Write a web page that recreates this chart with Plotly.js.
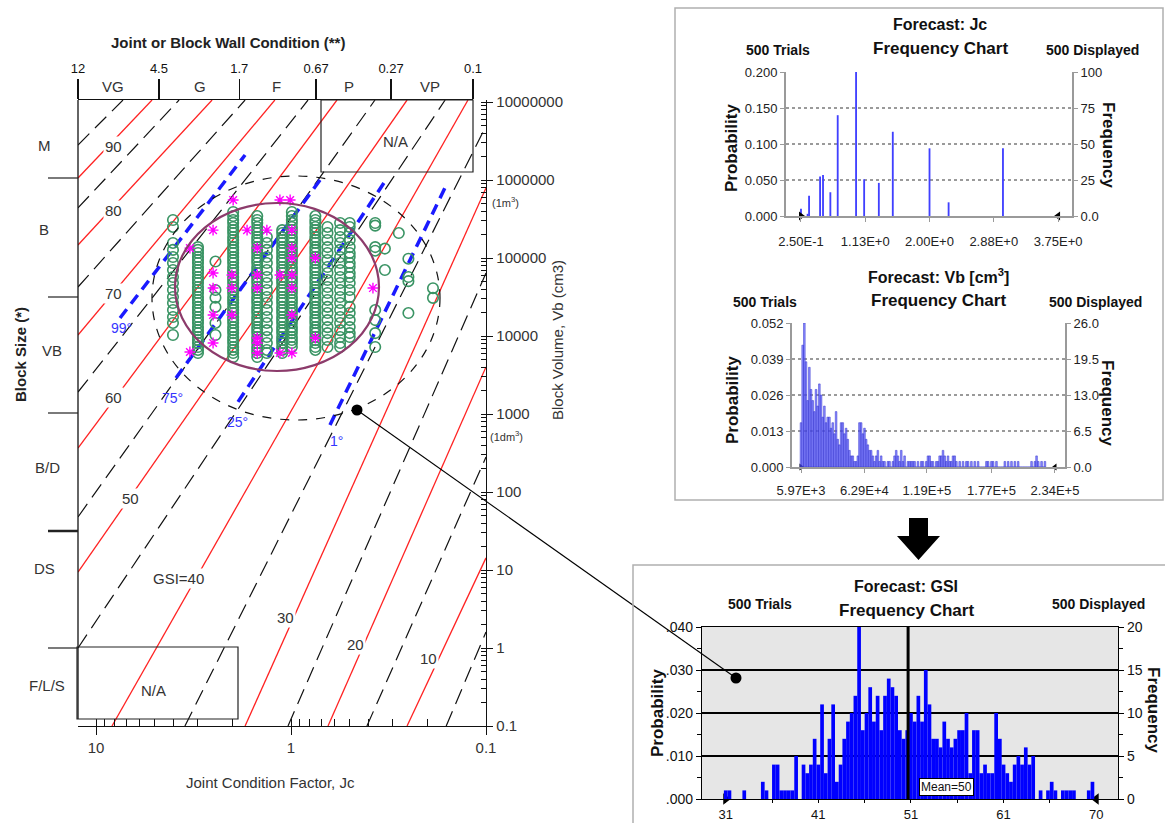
<!DOCTYPE html>
<html><head><meta charset="utf-8">
<script src="https://cdn.plot.ly/plotly-3.0.1.min.js"></script>
<style>html,body{margin:0;padding:0;background:#fff}#chart{width:1165px;height:823px}</style>
</head><body><div id="chart"></div>
<script>
// ---------------- DATA ----------------
// GSI nomogram contour lines (end points)
const gsiLevels   = [95,90,85,80,75,70,65,60,55,50,45,40,35,30,25,20,15,10,5];
const lineJcStart = [12.37,12.37,12.37,12.37,12.37,12.37,12.37,12.37,12.37,12.37,12.37,8.28,3.50,1.72,1.036,0.646,0.408,0.254,0.160];
const lineVbStart = [2.81e6,1.06e6,4.38e5,1.47e5,4.25e4,1.03e4,1910,366,47.8,9.42,1.0,0.1,0.1,0.1,0.1,0.1,0.1,0.1,0.1];
const lineJcEnd   = [7.27,5.16,3.75,2.54,1.72,1.21,0.818,0.581,0.371,0.254,0.162,0.1237,0.1,0.1,0.1,0.1,0.1,0.1,0.1];
const lineVbEnd   = [1.06e7,1.06e7,1.06e7,1.06e7,1.06e7,1.06e7,1.06e7,1.06e7,1.06e7,1.06e7,1.06e7,1.06e7,4.92e6,7.89e5,6.42e4,4010,281,14.3,1.60];
const gsiLabels   = ['90','80','70','60','50','GSI=40','30','20','10'];

// percentile lines (blue dashed)
const pctLabels  = ['99°','75°','25°','1°'];
const pctJcStart = [7.53, 3.89, 1.87, 0.631];
const pctVbStart = [1.70e4, 2900, 1430, 723];
const pctJcEnd   = [1.72, 0.710, 0.326, 0.158];
const pctVbEnd   = [2.09e6, 1.0e6, 1.0e6, 9.1e5];

// simulated samples (green circles) – one list of Vb per Jc column
const simColumnJc = [4.03, 3.00, 2.44, 1.98, 1.49, 1.33, 1.11, 0.99, 0.75, 0.65, 0.56, 0.50, 0.37, 0.33, 0.28, 0.25, 0.187];
const simColumnVb = [
  [307000,250000,156000,127000,103000,86300,70100,57100,47800,38900,31600,26500,21500,17500,14700,10300],
  [138000,127000,116000,103000,94200,86300,76700,70100,64200,57100,52200,47800,42500,38900,35600,31600,29000,26500,23600,21500,19700,17500,16000,14700,13000,11900,10900,9700,8890,8130,7230,6620,6050],
  [90000,38900,31000,23600,14700,10300],
  [389000,345000,307000,281000,250000,228000,209000,186000,170000,156000,138000,127000,116000,103000,94200,86300,76700,70100,64200,57100,52200,47800,42500,38900,35600,31600,29000,26500,23600,21500,19700,17500,16000,14700,13000,11900,10900,9700,8890,8130,7230,6620,6050,5380],
  [345000,307000,281000,250000,228000,209000,186000,170000,156000,138000,127000,116000,103000,94200,86300,76700,70100,64200,57100,52200,47800,42500,38900,35600,31600,29000,26500,23600,21500,19700,17500,16000,14700,13000,11900,10900,9700,8890,8130,7230,6620,6050,5380],
  [186000,156000,127000,103000,86300,70100,57100,47800,38900,31600,26500,21500,17500,14700,11900,9700,8130,6620,6050],
  [228000,209000,186000,170000,156000,138000,127000,116000,103000,94200,86300,76700,70100,64200,57100,52200,47800,42500,38900,35600,31600,29000,26500,23600,21500,19700,17500,16000,14700,13000,11900,10900,9700,8890,8130,7230,6620,6050],
  [389000,345000,307000,281000,250000,228000,209000,186000,170000,156000,138000,127000,116000,103000,94200,86300,76700,70100,64200,57100,52200,47800,42500,38900,35600,31600,29000,26500,23600,21500,19700,17500,16000,14700,13000,11900,10900,9700,8890,8130,7230],
  [345000,307000,281000,250000,228000,209000,186000,170000,156000,138000,127000,116000,103000,94200,86300,76700,70100,64200,57100,52200,47800,42500,38900,35600,31600,29000,26500,23600,21500,19700,17500,16000,14700,13000,11900,10900,9700,8890,8130,7230,6620],
  [250000,209000,170000,138000,116000,94200,76700,64200,52200,42500,35600,29000,23600,19700,16000,13000,10900,8890,7230],
  [281000,228000,186000,156000,127000,103000,86300,70100,57100,47800,38900,31600,26500,21500,17500,14700,11900,9700,8130,7230],
  [281000,250000,209000,170000,138000,116000,103000,86300,76700,64200,57100,47800,38900,31600,23600,19700,16000,13000,10900,9700],
  [281000,260000,138000,124000,21500,16000,10900,7230],
  [132000,70100],
  [209000],
  [98000,57100,50500,19700],
  [41000,30800]
];
// magenta asterisks
const starJc = [1.98,1.14,1.01, 2.51,1.68,1.33,0.99, 3.30,1.49,0.99, 0.99,0.75, 2.51,2.01,1.49,1.14,0.99, 2.51,2.01,1.49,0.99,0.38, 2.51,2.01,0.99, 2.51,1.49,1.49,1.49,0.75, 3.30,1.14,0.99];
const starVb = [554000,554000,554000, 228000,228000,228000,228000, 134000,134000,134000, 100000,100000, 64200,60500,60500,60500,60500, 41200,41200,41200,41200,41200, 18600,18600,18600, 8130,9420,8130,6050,9420, 6240,6050,6050];

// axis ticks of the nomogram
const jcBottomTicks = [10, 1, 0.1];
const jcBottomText  = ['10', '1', '0.1'];
const jcTopTicks    = [12, 4.5, 1.7, 0.67, 0.27, 0.1];
const jcTopText     = ['12', '4.5', '1.7', '0.67', '0.27', '0.1'];
const jcClasses     = ['VG', 'G', 'F', 'P', 'VP'];
const vbTicks       = [0.1, 1, 10, 100, 1000, 10000, 100000, 1000000, 10000000];
const vbTickText    = ['0.1','1','10','100','1000','10000','100000','1000000','10000000'];
const blockClasses  = ['M', 'B', 'VB', 'B/D', 'DS', 'F/L/S'];

// Forecast Jc
const jcValues = [0.25, 0.34, 0.36, 0.51, 0.55, 0.65, 0.75, 1.0, 1.11, 1.31, 1.5, 2.0, 2.26, 3.0];
const jcProb   = [0.010, 0.003, 0.028, 0.055, 0.057, 0.033, 0.140, 0.200, 0.051, 0.046, 0.117, 0.094, 0.019, 0.094];
const jcXTicks = [0.25, 1.125, 2.0, 2.875, 3.75];
const jcXText  = ['2.50E-1', '1.13E+0', '2.00E+0', '2.88E+0', '3.75E+0'];
const jcPTicks = [0, 0.05, 0.1, 0.15, 0.2];
const jcPText  = ['0.000', '0.050', '0.100', '0.150', '0.200'];
const jcFTicks = [0, 25, 50, 75, 100];
const jcFText  = ['0.0', '25', '50', '75', '100'];

// Forecast Vb
const vbStart = 5970, vbBinWidth = 1500;
const vbCounts = [8,22,26,19,12,18,14,12,10,14, 11,15,13,9,11,8,9,9,7,8, 6,10,5,4,8,8,6,7,5,3,
  2,2,1,1,2,8,8,6,7,5, 4,3,3,2,1,2,3,1,2,1, 1,0,1,1,0,1,2,3,2,1, 3,1,2,0,1,1,1,1,1,0,
  1,0,1,1,0,1,2,2,1,1, 0,1,1,2,2,3,2,1,2,1, 1,2,2,1,0,1,0,1,0,1, 1,0,1,0,1,0,1,0,0,0,
  0,1,1,0,1,1,0,1,0,0, 0,0,1,0,1,0,1,0,1,0, 1,0,0,0,0,0,0,0,1,0, 1,2,1,0,1,0,1];
const vbXTicks = [5970, 62900, 119000, 177000, 234000];
const vbXText  = ['5.97E+3', '6.29E+4', '1.19E+5', '1.77E+5', '2.34E+5'];
const vbPTicks = [0, 0.013, 0.026, 0.039, 0.052];
const vbPText  = ['0.000', '0.013', '0.026', '0.039', '0.052'];
const vbFTicks = [0, 6.5, 13, 19.5, 26];
const vbFText  = ['0.0', '6.5', '13.0', '19.5', '26.0'];

// Forecast GSI
const gsiStart = 31, gsiBinWidth = 0.39;
const gsiCounts = [1,1,0,0,0,1,0,0,0,0, 2,1,0,4,4,1,1,1,1,5, 0,4,3,4,7,4,11,3,7,11,
  2,4,7,9,10,12,20,8,10,13, 9,12,8,12,14,13,12,8,7,8, 10,9,12,9,15,11,7,7,6,9,
  7,6,7,8,8,10,3,8,8,3, 4,3,3,10,7,4,3,2,4,5, 4,6,4,5,0,1,0,1,2,1, 0,1,1,1,1,0,0,0,1,2];
const gsiMeanPos = 50.2;
const gsiXTicks = [31, 40.75, 50.5, 60.25, 70];
const gsiXText  = ['31', '41', '51', '61', '70'];
const gsiPTicks = [0, 0.01, 0.02, 0.03, 0.04];
const gsiPText  = ['.000', '.010', '.020', '.030', '.040'];
const gsiFTicks = [0, 5, 10, 15, 20];
const gsiFText  = ['0', '5', '10', '15', '20'];

// ---------------- DRAWING ----------------
const W = 1165, H = 823;
const px = x => x / W;
const py = y => 1 - y / H;
const FONT = 'Liberation Sans, Arial, Helvetica, sans-serif';
const traces = [];

function contour(isRed) {
  const xs = [], ys = [];
  gsiLevels.forEach((g, i) => {
    if ((g % 10 === 0) === isRed) {
      xs.push(lineJcStart[i], lineJcEnd[i], null);
      ys.push(lineVbStart[i], lineVbEnd[i], null);
    }
  });
  return {type: 'scatter', mode: 'lines', x: xs, y: ys, xaxis: 'x', yaxis: 'y', hoverinfo: 'skip',
    line: isRed ? {color: '#ff2222', width: 1.3} : {color: '#111', width: 1.2, dash: '16px,8px'}};
}
traces.push(contour(false), contour(true));

(function () {
  const xs = [], ys = [];
  pctLabels.forEach((l, i) => { xs.push(pctJcStart[i], pctJcEnd[i], null); ys.push(pctVbStart[i], pctVbEnd[i], null); });
  traces.push({type: 'scatter', mode: 'lines', x: xs, y: ys, xaxis: 'x', yaxis: 'y', hoverinfo: 'skip',
    line: {color: '#1a1aff', width: 3.5, dash: '11px,7px'}});
})();

(function () {
  const xs = [], ys = [];
  simColumnJc.forEach((jc, c) => simColumnVb[c].forEach(v => { xs.push(jc); ys.push(v); }));
  traces.push({type: 'scatter', mode: 'markers', x: xs, y: ys, xaxis: 'x', yaxis: 'y', hoverinfo: 'skip',
    marker: {symbol: 'circle-open', size: 10.5, color: '#3a9464', line: {color: '#3a9464', width: 1.6}}});
})();
traces.push({type: 'scatter', mode: 'markers', x: starJc, y: starVb, xaxis: 'x', yaxis: 'y', hoverinfo: 'skip',
  marker: {symbol: 'asterisk-open', size: 9, color: '#ff00ff', line: {color: '#ff00ff', width: 1.4}}});
// register top axis
traces.push({type: 'scatter', mode: 'none', x: jcTopTicks, y: jcTopTicks.map(() => 1), xaxis: 'x2', yaxis: 'y', hoverinfo: 'skip'});

// range end markers (first / last tick of each forecast axis)
function endMarks(xa, ya, a, b, size) {
  traces.push({type: 'scatter', mode: 'markers', x: [a, b], y: [0, 0], xaxis: xa, yaxis: ya, cliponaxis: false, hoverinfo: 'skip',
    marker: {symbol: ['triangle-right', 'triangle-left'], size: size, color: '#000', line: {width: 0}}});
}

// Jc forecast
traces.push({type: 'bar', x: jcValues, y: jcProb, width: 0.025, xaxis: 'x3', yaxis: 'y3', marker: {color: '#4040ff'}, hoverinfo: 'skip'});
traces.push({type: 'scatter', mode: 'none', x: jcXTicks, y: jcFTicks, xaxis: 'x3', yaxis: 'y4', hoverinfo: 'skip'});
endMarks('x3', 'y3', jcXTicks[0], jcXTicks[jcXTicks.length - 1], 8);
// Vb forecast
traces.push({type: 'bar', x0: vbStart, dx: vbBinWidth, y: vbCounts, width: vbBinWidth, xaxis: 'x4', yaxis: 'y6',
  marker: {color: 'rgba(90,90,255,0.7)', line: {color: '#3333cc', width: 0.5}}, hoverinfo: 'skip'});
traces.push({type: 'scatter', mode: 'none', x: vbXTicks, y: vbPTicks, xaxis: 'x4', yaxis: 'y5', hoverinfo: 'skip'});
endMarks('x4', 'y5', vbXTicks[0], vbXTicks[vbXTicks.length - 1], 6);
// GSI forecast
traces.push({type: 'bar', x0: gsiStart, dx: gsiBinWidth, y: gsiCounts, width: gsiBinWidth, xaxis: 'x5', yaxis: 'y8',
  marker: {color: '#0000ff', line: {width: 0}}, hoverinfo: 'skip'});
traces.push({type: 'scatter', mode: 'none', x: gsiXTicks, y: gsiPTicks, xaxis: 'x5', yaxis: 'y7', hoverinfo: 'skip'});
endMarks('x5', 'y7', gsiXTicks[0], gsiXTicks[gsiXTicks.length - 1], 10);

// ---------- annotations ----------
function note(text, x, y, size, opts) {
  return Object.assign({text: text, x: px(x), y: py(y), xref: 'paper', yref: 'paper', showarrow: false,
    xanchor: 'center', yanchor: 'middle', font: {family: FONT, size: size || 15, color: '#333'}}, opts || {});
}
const ann = [];
ann.push(note('<b>Joint or Block Wall Condition (**)</b>', 228, 42, 15, {font: {family: FONT, size: 15, color: '#222'}}));
[[113], [200], [276], [349], [430]].forEach((p, i) => ann.push(note(jcClasses[i], p[0], 86, 15)));
[[44,145],[44,230],[52,350],[47,468],[44,568],[47,685]].forEach((p, i) => ann.push(note(blockClasses[i], p[0], p[1], 15)));
ann.push(note('<b>Block Size (*)</b>', 20, 355, 15, {textangle: -90, font: {family: FONT, size: 15, color: '#222'}}));
[[113,147],[113,210],[113,293],[113,397],[130,498],[178,578],[285,617],[355,644],[428,658]].forEach((p, i) =>
  ann.push(note(gsiLabels[i], p[0], p[1], 15, {bgcolor: '#ffffff', borderpad: 1})));
[[121,328],[172,398],[237,422],[336,441]].forEach((p, i) =>
  ann.push(note(pctLabels[i], p[0], p[1], 14, {font: {family: FONT, size: 14, color: '#3535ff'}})));
ann.push(note('N/A', 396, 142, 15), note('N/A', 153, 690, 15));
ann.push(note('Block Volume, Vb (cm3)', 557, 340, 15, {textangle: -90}));
ann.push(note('(1m<sup>3</sup>)', 505, 202, 11), note('(1dm<sup>3</sup>)', 506, 436, 11));
ann.push(note('Joint Condition Factor, Jc', 270, 782, 15));

function panelText(title, cx, ty, trialsX, dispX, lineY, probX, probY, freqX, freqY, tsize) {
  ann.push(note('<b>' + title + '</b>', cx, ty, 16, {font: {family: FONT, size: 16, color: '#111'}}));
  ann.push(note('<b>Frequency Chart</b>', cx, ty + 24, 17, {font: {family: FONT, size: 17, color: '#111'}}));
  ann.push(note('<b>500 Trials</b>', trialsX, lineY, tsize, {font: {family: FONT, size: tsize, color: '#111'}}));
  ann.push(note('<b>500 Displayed</b>', dispX, lineY, tsize, {font: {family: FONT, size: tsize, color: '#111'}}));
  ann.push(note('<b>Probability</b>', probX, probY, 17, {textangle: -90, font: {family: FONT, size: 17, color: '#111'}}));
  ann.push(note('<b>Frequency</b>', freqX, freqY, 17, {textangle: 90, font: {family: FONT, size: 17, color: '#111'}}));
}
panelText('Forecast: Jc', 940, 24, 778, 1092, 50, 731, 148, 1109, 145, 14);
panelText('Forecast: Vb [cm<sup>3</sup>]', 938, 276, 765, 1095, 302, 732, 400, 1108, 403, 14);
panelText('Forecast: GSI', 906, 586, 760, 1098, 604, 657, 713, 1154, 710, 14);
ann.push(note('Mean=50', 946, 787, 12, {bgcolor: '#fff', bordercolor: '#000', borderwidth: 1, borderpad: 1,
  font: {family: FONT, size: 12, color: '#111'}}));

// ---------- shapes ----------
function pline(x0, y0, x1, y1, color, width, extra) {
  return Object.assign({type: 'line', xref: 'paper', yref: 'paper', x0: px(x0), y0: py(y0), x1: px(x1), y1: py(y1),
    line: {color: color || '#111', width: width || 1}}, extra || {});
}
function prect(x0, y0, x1, y1, color, width, fill, layer) {
  return {type: 'rect', xref: 'paper', yref: 'paper', x0: px(x0), y0: py(y0), x1: px(x1), y1: py(y1),
    line: {color: color, width: width}, fillcolor: fill || 'rgba(0,0,0,0)', layer: layer || 'above'};
}
const shapes = [];
shapes.push(prect(702, 627, 1118, 799, 'rgba(0,0,0,0)', 0, '#e6e6e6', 'below'));
shapes.push(pline(78, 100, 78, 719, '#111', 1.3));
[178, 297, 413, 531, 648].forEach((y, i) => shapes.push(pline(48, y, 78, y, '#222', i === 3 ? 2.5 : 1.2)));
shapes.push(prect(77, 647, 238, 719, '#222', 1.2));
shapes.push(prect(321, 100, 473, 172, '#222', 1.2));
shapes.push({type: 'circle', xref: 'paper', yref: 'paper', x0: px(175), x1: px(379), y0: py(371), y1: py(203),
  line: {color: '#8c3b6b', width: 2.2}});
shapes.push({type: 'circle', xref: 'paper', yref: 'paper', x0: px(152), x1: px(440), y0: py(420), y1: py(176),
  line: {color: '#111', width: 1.2, dash: 'dash'}});
shapes.push(pline(357, 410, 736, 678, '#000', 1.1));
[[357, 410], [736, 678]].forEach(p => shapes.push({type: 'circle', xref: 'paper', yref: 'paper',
  x0: px(p[0] - 5.5), x1: px(p[0] + 5.5), y0: py(p[1] + 5.5), y1: py(p[1] - 5.5), fillcolor: '#000', line: {color: '#000', width: 0}}));
shapes.push(prect(675, 8, 1163, 500, '#b0b0b0', 1.5));
shapes.push(prect(633, 565, 1172, 830, '#b0b0b0', 1.5));
shapes.push({type: 'path', xref: 'paper', yref: 'paper', fillcolor: '#000', line: {color: '#000', width: 0},
  path: 'M' + px(909) + ',' + py(518) + ' L' + px(928) + ',' + py(518) + ' L' + px(928) + ',' + py(536) +
        ' L' + px(940) + ',' + py(536) + ' L' + px(918.5) + ',' + py(560) + ' L' + px(897) + ',' + py(536) +
        ' L' + px(909) + ',' + py(536) + ' Z'});
shapes.push({type: 'line', xref: 'x5', yref: 'y7', x0: gsiMeanPos, x1: gsiMeanPos, y0: 0, y1: 0.04, line: {color: '#000', width: 3}});

// ---------- axes ----------
const tf = (s, c) => ({family: FONT, size: s, color: c || '#222'});
const grayAx = {showline: true, linecolor: '#9a9a9a', linewidth: 2, ticks: 'outside', ticklen: 4, tickcolor: '#9a9a9a',
  zeroline: false, fixedrange: true};
const layout = {
  width: W, height: H, margin: {l: 0, r: 0, t: 0, b: 0}, showlegend: false,
  paper_bgcolor: '#fff', plot_bgcolor: 'rgba(0,0,0,0)', font: {family: FONT},
  xaxis: {type: 'log', range: [Math.log10(12.37), -1], domain: [px(78), px(486)], anchor: 'y',
    showline: true, linecolor: '#111', linewidth: 1.3, ticks: 'outside', ticklen: 8, tickcolor: '#111',
    tickvals: jcBottomTicks, ticktext: jcBottomText, tickfont: tf(15, '#333'),
    minor: {dtick: 'D1', ticks: 'inside', ticklen: 7, tickcolor: '#111'}, showgrid: false, zeroline: false},
  xaxis2: {type: 'log', range: [Math.log10(12), -1], domain: [px(78), px(473)], anchor: 'y', side: 'top',
    showline: true, linecolor: '#111', linewidth: 1.5, ticks: 'outside', ticklen: 20, tickwidth: 1.4, tickcolor: '#111',
    tickvals: jcTopTicks, ticktext: jcTopText, tickfont: tf(13, '#111'), showgrid: false, zeroline: false},
  yaxis: {type: 'log', range: [-1, 7.0256], domain: [py(726), py(100)], anchor: 'x', side: 'right',
    showline: true, linecolor: '#111', linewidth: 1.3, ticks: 'outside', ticklen: 6, tickcolor: '#111',
    tickvals: vbTicks, ticktext: vbTickText, tickfont: tf(15, '#333'),
    minor: {dtick: 'D1', ticks: 'inside', ticklen: 5, tickcolor: '#111'}, showgrid: false, zeroline: false},

  xaxis3: Object.assign({}, grayAx, {domain: [px(786), px(1072)], anchor: 'y3', range: [0.046, 3.94],
    tickvals: jcXTicks, ticktext: jcXText, tickfont: tf(13), showgrid: false, ticklabelstandoff: 8}),
  yaxis3: Object.assign({}, grayAx, {domain: [py(216), py(72)], anchor: 'x3', range: [0, 0.2],
    tickvals: jcPTicks, ticktext: jcPText, tickfont: tf(13), showgrid: true, gridcolor: '#9a9a9a', griddash: 'dot', gridwidth: 1.2}),
  yaxis4: Object.assign({}, grayAx, {overlaying: 'y3', side: 'right', anchor: 'x3', range: [0, 100],
    tickvals: jcFTicks, ticktext: jcFText, tickfont: tf(13), showgrid: false}),

  xaxis4: Object.assign({}, grayAx, {domain: [px(792), px(1065)], anchor: 'y5', range: [-2110, 243000],
    tickvals: vbXTicks, ticktext: vbXText, tickfont: tf(13), showgrid: false, ticklabelstandoff: 6}),
  yaxis5: Object.assign({}, grayAx, {domain: [py(467), py(323)], anchor: 'x4', range: [0, 0.052],
    tickvals: vbPTicks, ticktext: vbPText, tickfont: tf(13), showgrid: true, gridcolor: '#9a9a9a', griddash: 'dot', gridwidth: 1.2}),
  yaxis6: Object.assign({}, grayAx, {overlaying: 'y5', side: 'right', anchor: 'x4', range: [0, 26],
    tickvals: vbFTicks, ticktext: vbFText, tickfont: tf(13), showgrid: false}),

  xaxis5: {domain: [px(702), px(1118)], anchor: 'y7', range: [28.5, 72.3], showline: true, mirror: true,
    linecolor: '#000', linewidth: 1.2, ticks: 'outside', ticklen: 3, tickcolor: '#000',
    tickvals: gsiXTicks, ticktext: gsiXText, tickfont: tf(13, '#111'), ticklabelstandoff: 0,
    minor: {tick0: 31, dtick: 4.875, ticks: 'outside', ticklen: 3, tickcolor: '#000'}, showgrid: false, zeroline: false, fixedrange: true},
  yaxis7: {domain: [py(799), py(627)], anchor: 'x5', range: [0, 0.04], showline: true, linecolor: '#000', linewidth: 1.2,
    ticks: 'outside', ticklen: 5, tickcolor: '#000', tickvals: gsiPTicks, ticktext: gsiPText, tickfont: tf(14, '#111'),
    minor: {tick0: 0, dtick: 0.005, ticks: 'outside', ticklen: 4, tickcolor: '#000'},
    showgrid: true, gridcolor: '#000', gridwidth: 2.5, zeroline: false, fixedrange: true},
  yaxis8: {overlaying: 'y7', side: 'right', anchor: 'x5', range: [0, 20], showline: true, linecolor: '#000', linewidth: 1.2,
    ticks: 'outside', ticklen: 5, tickcolor: '#000', tickvals: gsiFTicks, ticktext: gsiFText, tickfont: tf(14, '#111'),
    minor: {tick0: 0, dtick: 2.5, ticks: 'outside', ticklen: 4, tickcolor: '#000'}, showgrid: false, zeroline: false, fixedrange: true},
  annotations: ann,
  shapes: shapes
};
Plotly.newPlot('chart', traces, layout, {staticPlot: true, displayModeBar: false});
</script></body></html>
